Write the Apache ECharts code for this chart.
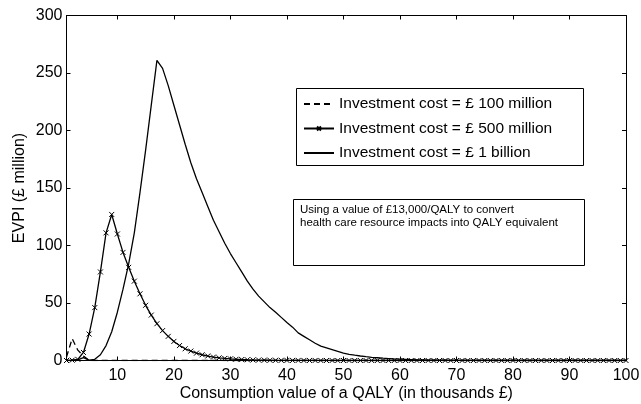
<!DOCTYPE html>
<html>
<head>
    <meta charset="utf-8">
    <title>EVPI</title>
    <script src="https://cdn.jsdelivr.net/npm/echarts@6/dist/echarts.min.js"></script>
</head>
<body style="margin:0">
<!-- 图表容器 -->
<div id="chart1" style="width:641px;height:404px;"></div>
<script type="text/javascript">
    // 横轴：QALY 的消费价值（千英镑）
    var qalyValues = [
        1, 2, 3, 4, 5, 6, 7, 8, 9, 10,
        11, 12, 13, 14, 15, 16, 17, 18, 19, 20,
        21, 22, 23, 24, 25, 26, 27, 28, 29, 30,
        31, 32, 33, 34, 35, 36, 37, 38, 39, 40,
        41, 42, 43, 44, 45, 46, 47, 48, 49, 50,
        51, 52, 53, 54, 55, 56, 57, 58, 59, 60,
        61, 62, 63, 64, 65, 66, 67, 68, 69, 70,
        71, 72, 73, 74, 75, 76, 77, 78, 79, 80,
        81, 82, 83, 84, 85, 86, 87, 88, 89, 90,
        91, 92, 93, 94, 95, 96, 97, 98, 99, 100
    ];
    // 投资成本 = 1 亿英镑
    var evpi100m = [
        3, 19, 9, 4, 0, 0, 0, 0, 0, 0,
        0, 0, 0, 0, 0, 0, 0, 0, 0, 0,
        0, 0, 0, 0, 0, 0, 0, 0, 0, 0,
        0, 0, 0, 0, 0, 0, 0, 0, 0, 0,
        0, 0, 0, 0, 0, 0, 0, 0, 0, 0,
        0, 0, 0, 0, 0, 0, 0, 0, 0, 0,
        0, 0, 0, 0, 0, 0, 0, 0, 0, 0,
        0, 0, 0, 0, 0, 0, 0, 0, 0, 0,
        0, 0, 0, 0, 0, 0, 0, 0, 0, 0,
        0, 0, 0, 0, 0, 0, 0, 0, 0, 0
    ];
    // 投资成本 = 5 亿英镑
    var evpi500m = [
        0, 0.3, 1, 7, 23, 46, 77, 111, 127, 110,
        94, 81, 69, 58, 48, 39.5, 32, 26, 21, 16.6,
        13, 10.2, 8.2, 6.4, 5, 3.9, 3, 2.3, 1.8, 1.4,
        1.1, 0.85, 0.65, 0.5, 0.38, 0.3, 0.22, 0.17, 0.13, 0.1,
        0.08, 0.06, 0.05, 0.04, 0.03, 0.02, 0.02, 0.01, 0.01, 0,
        0, 0, 0, 0, 0, 0, 0, 0, 0, 0,
        0, 0, 0, 0, 0, 0, 0, 0, 0, 0,
        0, 0, 0, 0, 0, 0, 0, 0, 0, 0,
        0, 0, 0, 0, 0, 0, 0, 0, 0, 0,
        0, 0, 0, 0, 0, 0, 0, 0, 0, 0
    ];
    // 投资成本 = 10 亿英镑
    var evpi1b = [
        0, 0, 0.5, 2.5, 0.3, 1, 5, 13, 25, 42,
        62, 84, 111, 146, 183, 222, 261, 254, 239, 222,
        205, 188, 172, 158, 146, 134, 122, 112, 102, 93,
        85, 77, 69, 62, 56, 51, 46, 42, 37.5, 33,
        29, 24, 21, 18, 15, 12.5, 11, 9.5, 8, 6.5,
        5.4, 4.6, 3.9, 3.3, 2.8, 2.4, 2.0, 1.7, 1.4, 1.2,
        1.0, 0.8, 0.6, 0.5, 0.4, 0.3, 0.25, 0.2, 0.15, 0.1,
        0.08, 0.06, 0.05, 0.04, 0.03, 0.02, 0.02, 0.01, 0.01, 0,
        0, 0, 0, 0, 0, 0, 0, 0, 0, 0,
        0, 0, 0, 0, 0, 0, 0, 0, 0, 0
    ];
    var xTicks = [10, 20, 30, 40, 50, 60, 70, 80, 90, 100];
    var seriesNames = [
        'Investment cost = £ 100 million',
        'Investment cost = £ 500 million',
        'Investment cost = £ 1 billion'
    ];
    var noteLines = [
        'Using a value of £13,000/QALY to convert',
        'health care resource impacts into QALY equivalent'
    ];

    function pairs(ys) {
        var out = [];
        for (var i = 0; i < qalyValues.length; i++) {
            out.push([qalyValues[i], ys[i]]);
        }
        return out;
    }

    var font = 'Liberation Sans, Arial, Helvetica, sans-serif';
    var myChart1 = echarts.init(document.getElementById('chart1'), null, {renderer: 'canvas'});

    var tickStyle = {show: true, inside: true, length: 4, lineStyle: {color: '#000', width: 1}};
    // 图例里不画圆点
    var noDot = {color: 'rgba(0,0,0,0)', borderColor: 'rgba(0,0,0,0)', borderWidth: 0};

    myChart1.setOption({
        animation: false,
        backgroundColor: '#fff',
        textStyle: {fontFamily: font},
        grid: {left: 66.5, right: 15, top: 15.5, bottom: 43.5, outerBoundsMode: 'none'},
        legend: {
            orient: 'vertical',
            left: 303,
            top: 96,
            padding: 0,
            itemWidth: 30,
            itemHeight: 5,
            itemGap: 8.5,
            textStyle: {fontSize: 15.5, color: '#000', fontFamily: font},
            data: [
                {name: seriesNames[0], itemStyle: noDot},
                {name: seriesNames[1]},
                {name: seriesNames[2], itemStyle: noDot}
            ]
        },
        xAxis: [{
            type: 'value',
            min: 1,
            max: 100,
            position: 'bottom',
            name: 'Consumption value of a QALY (in thousands £)',
            nameLocation: 'middle',
            nameGap: 25,
            nameMoveOverlap: false,
            nameTextStyle: {fontSize: 16, color: '#000', fontFamily: font},
            axisLine: {show: true, onZero: false, lineStyle: {color: '#000', width: 1}},
            axisTick: Object.assign({customValues: xTicks}, tickStyle),
            axisLabel: {customValues: xTicks, fontSize: 16, color: '#000', margin: 7, fontFamily: font},
            splitLine: {show: false}
        }, {
            type: 'value',
            min: 1,
            max: 100,
            position: 'top',
            axisLine: {show: true, onZero: false, lineStyle: {color: '#000', width: 1}},
            axisTick: Object.assign({customValues: xTicks}, tickStyle),
            axisLabel: {show: false},
            splitLine: {show: false}
        }],
        yAxis: [{
            type: 'value',
            min: 0,
            max: 300,
            interval: 50,
            position: 'left',
            name: 'EVPI (£ million)',
            nameLocation: 'middle',
            nameGap: 39,
            nameMoveOverlap: false,
            nameTextStyle: {fontSize: 16, color: '#000', fontFamily: font},
            axisLine: {show: true, onZero: false, lineStyle: {color: '#000', width: 1}},
            axisTick: tickStyle,
            axisLabel: {fontSize: 16, color: '#000', margin: 4, fontFamily: font},
            splitLine: {show: false}
        }, {
            type: 'value',
            min: 0,
            max: 300,
            interval: 50,
            position: 'right',
            axisLine: {show: true, onZero: false, lineStyle: {color: '#000', width: 1}},
            axisTick: tickStyle,
            axisLabel: {show: false},
            splitLine: {show: false}
        }],
        series: [{
            name: seriesNames[0],
            type: 'line',
            data: pairs(evpi100m),
            symbol: 'none',
            z: 3,
            lineStyle: {color: '#000', width: 1.3, type: [6, 4]},
            itemStyle: {color: '#000'}
        }, {
            name: seriesNames[1],
            type: 'line',
            data: pairs(evpi500m),
            symbol: 'path://M0 0L10 10M10 0L0 10',
            symbolSize: 5,
            showAllSymbol: true,
            lineStyle: {color: '#000', width: 1.3},
            itemStyle: {color: '#000', borderColor: '#000', borderWidth: 1}
        }, {
            name: seriesNames[2],
            type: 'line',
            data: pairs(evpi1b),
            symbol: 'none',
            lineStyle: {color: '#000', width: 1.3},
            itemStyle: {color: '#000'}
        }],
        graphic: [{
            type: 'rect',
            shape: {x: 296.5, y: 88.5, width: 287, height: 77},
            style: {fill: 'none', stroke: '#000', lineWidth: 1},
            z: 50
        }, {
            type: 'rect',
            shape: {x: 293.5, y: 199.5, width: 291, height: 66},
            style: {fill: '#fff', stroke: '#000', lineWidth: 1},
            z: 50
        }, {
            type: 'text',
            left: 300,
            top: 203,
            z: 51,
            style: {
                text: noteLines.join('\n'),
                fontSize: 11.5,
                lineHeight: 13.3,
                fill: '#000',
                fontFamily: font
            }
        }]
    });
</script>
</body>
</html>
